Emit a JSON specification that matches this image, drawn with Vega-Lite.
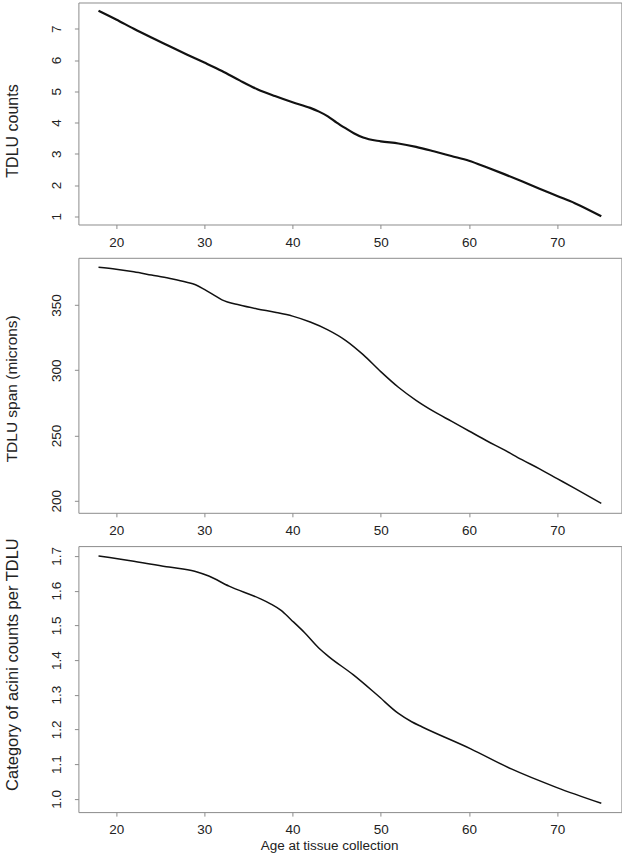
{
  "$schema": "https://vega.github.io/schema/vega-lite/v6.json",
  "padding": {"left": 3.4, "top": 1.5, "right": 0, "bottom": 0},
  "background": "white",
  "bounds": "flush",
  "spacing": 33.3,
  "config": {
    "view": {"stroke": "#8c8c8c", "strokeWidth": 1},
    "font": "Liberation Sans",
    "axis": {
      "domain": false, "grid": false, "tickColor": "#8c8c8c", "tickSize": 4,
      "labelFont": "Liberation Sans", "titleFont": "Liberation Sans",
      "labelFontSize": 13.5, "labelColor": "#222", "titleColor": "#222",
      "titleFontWeight": "normal"
    }
  },
  "datasets": {
    "counts": [
      {"age": 18, "v": 7.58}, {"age": 20, "v": 7.30}, {"age": 22, "v": 7.00}, {"age": 24, "v": 6.72},
      {"age": 26, "v": 6.45}, {"age": 28, "v": 6.18}, {"age": 30, "v": 5.92}, {"age": 32, "v": 5.65},
      {"age": 34, "v": 5.35}, {"age": 36, "v": 5.07}, {"age": 38, "v": 4.85}, {"age": 40, "v": 4.65},
      {"age": 42, "v": 4.47}, {"age": 43, "v": 4.35}, {"age": 44, "v": 4.20}, {"age": 45, "v": 4.00},
      {"age": 46, "v": 3.82}, {"age": 47, "v": 3.65}, {"age": 48, "v": 3.52}, {"age": 50, "v": 3.40},
      {"age": 52, "v": 3.33}, {"age": 54, "v": 3.22}, {"age": 56, "v": 3.08}, {"age": 58, "v": 2.93},
      {"age": 60, "v": 2.78}, {"age": 62, "v": 2.57}, {"age": 64, "v": 2.35}, {"age": 66, "v": 2.12},
      {"age": 68, "v": 1.88}, {"age": 70, "v": 1.65}, {"age": 72, "v": 1.42}, {"age": 75, "v": 1.0}
    ],
    "span": [
      {"age": 18, "v": 379}, {"age": 20, "v": 377.5}, {"age": 22, "v": 375.5}, {"age": 24, "v": 373},
      {"age": 26, "v": 370.5}, {"age": 28, "v": 367.5}, {"age": 29, "v": 365.5}, {"age": 30, "v": 362},
      {"age": 31, "v": 358}, {"age": 32, "v": 354}, {"age": 34, "v": 350}, {"age": 36, "v": 347},
      {"age": 38, "v": 344.5}, {"age": 40, "v": 341.5}, {"age": 42, "v": 337}, {"age": 44, "v": 331},
      {"age": 46, "v": 323}, {"age": 48, "v": 312}, {"age": 50, "v": 299}, {"age": 52, "v": 287},
      {"age": 54, "v": 277}, {"age": 56, "v": 268.5}, {"age": 58, "v": 261}, {"age": 60, "v": 253.5},
      {"age": 62, "v": 246}, {"age": 64, "v": 239}, {"age": 66, "v": 231.5}, {"age": 68, "v": 224.5},
      {"age": 70, "v": 217}, {"age": 72, "v": 209.5}, {"age": 75, "v": 198}
    ],
    "acini": [
      {"age": 18, "v": 1.700}, {"age": 22, "v": 1.685}, {"age": 26, "v": 1.668}, {"age": 28.9, "v": 1.656},
      {"age": 30.5, "v": 1.642}, {"age": 32.8, "v": 1.613}, {"age": 36.3, "v": 1.577}, {"age": 37.5, "v": 1.562},
      {"age": 38.7, "v": 1.543}, {"age": 39.8, "v": 1.517}, {"age": 41.4, "v": 1.478}, {"age": 43.0, "v": 1.434},
      {"age": 44.1, "v": 1.410}, {"age": 46.9, "v": 1.357}, {"age": 49.6, "v": 1.299}, {"age": 52.0, "v": 1.246},
      {"age": 53.5, "v": 1.222}, {"age": 54.7, "v": 1.207}, {"age": 60.2, "v": 1.144}, {"age": 64.8, "v": 1.086},
      {"age": 69.9, "v": 1.033}, {"age": 75, "v": 0.987}
    ]
  },
  "vconcat": [
    {
      "width": 543, "height": 222,
      "data": {"name": "counts"},
      "mark": {"type": "line", "color": "#111", "strokeWidth": 2.2, "interpolate": "monotone"},
      "encoding": {
        "x": {"field": "age", "type": "quantitative", "scale": {"domain": [15.72, 77.28], "nice": false, "zero": false},
          "axis": {"title": null, "values": [20, 30, 40, 50, 60, 70], "labelPadding": 6.5}},
        "y": {"field": "v", "type": "quantitative", "scale": {"domain": [0.737, 7.843], "nice": false, "zero": false},
          "axis": {"title": "TDLU counts", "values": [1, 2, 3, 4, 5, 6, 7], "labelAngle": -90, "labelAlign": "center", "labelBaseline": "alphabetic", "labelPadding": 13.5,
            "titleFontSize": 16, "titleAngle": -90, "titleAlign": "center", "titleBaseline": "alphabetic", "titleX": -61, "titleY": 128}}
      }
    },
    {
      "width": 543, "height": 255,
      "data": {"name": "span"},
      "mark": {"type": "line", "color": "#111", "strokeWidth": 1.5, "interpolate": "monotone"},
      "encoding": {
        "x": {"field": "age", "type": "quantitative", "scale": {"domain": [15.72, 77.28], "nice": false, "zero": false},
          "axis": {"title": null, "values": [20, 30, 40, 50, 60, 70], "labelPadding": 6.5}},
        "y": {"field": "v", "type": "quantitative", "scale": {"domain": [190.8, 386.2], "nice": false, "zero": false},
          "axis": {"title": "TDLU span (microns)", "values": [200, 250, 300, 350], "labelAngle": -90, "labelAlign": "center", "labelBaseline": "alphabetic", "labelPadding": 13.5,
            "titleFontSize": 15.5, "titleAngle": -90, "titleAlign": "center", "titleBaseline": "alphabetic", "titleX": -61.5, "titleY": 130.5}}
      }
    },
    {
      "width": 543, "height": 266,
      "data": {"name": "acini"},
      "mark": {"type": "line", "color": "#111", "strokeWidth": 1.5, "interpolate": "monotone"},
      "encoding": {
        "x": {"field": "age", "type": "quantitative", "scale": {"domain": [15.72, 77.28], "nice": false, "zero": false},
          "axis": {"title": "Age at tissue collection", "values": [20, 30, 40, 50, 60, 70], "labelPadding": 6.5,
            "titleFontSize": 13.5, "titleAlign": "center", "titleBaseline": "alphabetic", "titleX": 250.7, "titleY": 37.3}},
        "y": {"field": "v", "type": "quantitative", "scale": {"domain": [0.9616, 1.7284], "nice": false, "zero": false},
          "axis": {"title": "Category of acini counts per TDLU", "values": [1.0, 1.1, 1.2, 1.3, 1.4, 1.5, 1.6, 1.7], "format": ".1f", "labelAngle": -90, "labelAlign": "center", "labelBaseline": "alphabetic", "labelPadding": 13.5,
            "titleFontSize": 16.5, "titleAngle": -90, "titleAlign": "center", "titleBaseline": "alphabetic", "titleX": -60.6, "titleY": 118}}
      }
    }
  ]
}
